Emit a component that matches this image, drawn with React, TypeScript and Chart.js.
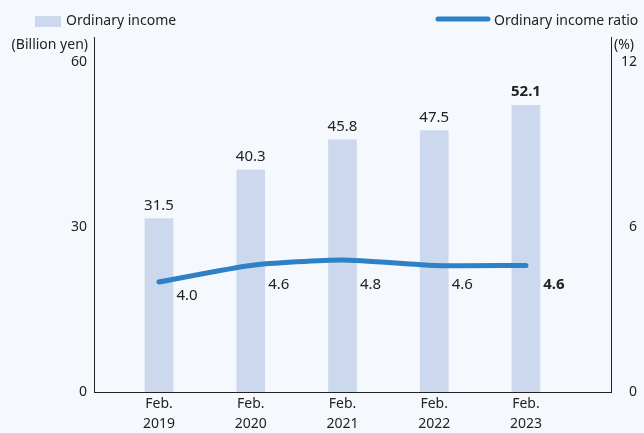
import React, { useEffect, useRef } from 'react';
import { Chart, registerables } from 'chart.js';

Chart.register(...registerables);

const periods = ['Feb.', 'Feb.', 'Feb.', 'Feb.', 'Feb.'];
const years = ['2019', '2020', '2021', '2022', '2023'];
const ordinaryIncome = [31.5, 40.3, 45.8, 47.5, 52.1];
const incomeRatio = [4.0, 4.6, 4.8, 4.6, 4.6];
const leftTicks = [0, 30, 60];
const rightTicks = [0, 6, 12];
const leftTitle = '(Billion yen)';
const rightTitle = '(%)';
const barLegend = 'Ordinary income';
const lineLegend = 'Ordinary income ratio';

const BG = '#f5f9fd';
const BAR = '#cbd8ee';
const LINE = '#2d81c6';
const TEXT = '#222222';
const FONT = '"Noto Sans", "Open Sans", sans-serif';

const overlay = {
  id: 'overlay',
  beforeDraw(chart: any) {
    const ctx = chart.ctx;
    ctx.save();
    ctx.fillStyle = BG;
    ctx.fillRect(0, 0, chart.width, chart.height);
    ctx.restore();
  },
  afterDraw(chart: any) {
    const ctx = chart.ctx;
    const area = chart.chartArea;
    const y1 = chart.scales.y1;
    const barMeta = chart.getDatasetMeta(0);
    const lineMeta = chart.getDatasetMeta(1);
    ctx.save();
    ctx.fillStyle = TEXT;
    // bar value labels
    barMeta.data.forEach((el: any, i: number) => {
      const last = i === ordinaryIncome.length - 1;
      ctx.font = `${last ? 'bold ' : ''}15px ${FONT}`;
      ctx.textAlign = 'center';
      ctx.textBaseline = 'alphabetic';
      ctx.fillText(ordinaryIncome[i].toFixed(1), el.x, el.y - 9);
    });
    // line value labels
    const floor = y1.getPixelForValue(3.75);
    lineMeta.data.forEach((el: any, i: number) => {
      const last = i === incomeRatio.length - 1;
      ctx.font = `${last ? 'bold ' : ''}15px ${FONT}`;
      ctx.textAlign = 'center';
      ctx.textBaseline = 'alphabetic';
      const yy = Math.max(el.y + 18, floor);
      ctx.fillText(incomeRatio[i].toFixed(1), el.x + 28, yy);
    });
    // axis titles
    ctx.font = `14px ${FONT}`;
    ctx.textBaseline = 'middle';
    ctx.textAlign = 'right';
    ctx.fillText(leftTitle, area.left - 6, area.top + 8);
    ctx.textAlign = 'left';
    ctx.fillText(rightTitle, area.right + 3, area.top + 8);
    // legends
    ctx.fillStyle = BAR;
    ctx.fillRect(35, 16, 26, 11);
    ctx.fillStyle = TEXT;
    ctx.textAlign = 'left';
    ctx.fillText(barLegend, 66, 21);
    ctx.strokeStyle = LINE;
    ctx.lineWidth = 5;
    ctx.lineCap = 'round';
    ctx.beginPath();
    ctx.moveTo(438, 19);
    ctx.lineTo(488, 19);
    ctx.stroke();
    ctx.fillText(lineLegend, 494, 21);
    ctx.restore();
  },
};

export default function App() {
  const ref = useRef<HTMLCanvasElement>(null);
  useEffect(() => {
    if (!ref.current) return;
    const chart = new Chart(ref.current, {
      type: 'bar',
      data: {
        datasets: [
          {
            type: 'bar',
            label: barLegend,
            data: ordinaryIncome.map((v, i) => ({ x: i, y: v })),
            backgroundColor: BAR,
            barThickness: 28,
            yAxisID: 'y',
            order: 2,
          } as any,
          {
            type: 'line',
            label: lineLegend,
            data: incomeRatio.map((v, i) => ({ x: i, y: v })),
            borderColor: LINE,
            borderWidth: 5,
            pointRadius: 0,
            tension: 0.2,
            borderCapStyle: 'round',
            borderJoinStyle: 'round',
            yAxisID: 'y1',
            order: 1,
          } as any,
        ],
      },
      options: {
        responsive: false,
        animation: false,
        layout: { padding: { top: 37, left: 0, right: 7, bottom: 0 } },
        plugins: { legend: { display: false }, tooltip: { enabled: false } },
        scales: {
          x: {
            type: 'linear',
            min: -0.7085,
            max: 4.927,
            offset: false,
            grid: { display: false, drawTicks: false, offset: false },
            border: { display: true, color: TEXT, width: 1 },
            afterBuildTicks: (s: any) => {
              s.ticks = years.map((_, i) => ({ value: i }));
            },
            afterFit: (s: any) => {
              s.height = 41;
            },
            ticks: {
              autoSkip: false,
              maxRotation: 0,
              padding: 2,
              color: TEXT,
              font: { family: FONT, size: 14, lineHeight: 1.45 },
              callback: (v: any) => [periods[v], years[v]],
            },
          },
          y: {
            position: 'left',
            min: 0,
            max: 64.5,
            grid: { display: false, drawTicks: false },
            border: { display: true, color: TEXT, width: 1 },
            afterBuildTicks: (s: any) => {
              s.ticks = leftTicks.map((v) => ({ value: v }));
            },
            afterFit: (s: any) => {
              s.width = 94;
            },
            ticks: {
              padding: 7,
              color: TEXT,
              font: { family: FONT, size: 14 },
            },
          },
          y1: {
            position: 'right',
            min: 0,
            max: 12.9,
            grid: { display: false, drawTicks: false },
            border: { display: true, color: TEXT, width: 1 },
            afterBuildTicks: (s: any) => {
              s.ticks = rightTicks.map((v) => ({ value: v }));
            },
            afterFit: (s: any) => {
              s.width = 26;
            },
            ticks: {
              padding: 9,
              crossAlign: 'far',
              color: TEXT,
              font: { family: FONT, size: 14 },
            },
          },
        },
      } as any,
      plugins: [overlay],
    });
    return () => chart.destroy();
  }, []);
  return (
    <div style={{ position: 'fixed', left: 0, top: 0, width: 644, height: 433, background: BG }}>
      <canvas ref={ref} width={644} height={433} />
    </div>
  );
}
